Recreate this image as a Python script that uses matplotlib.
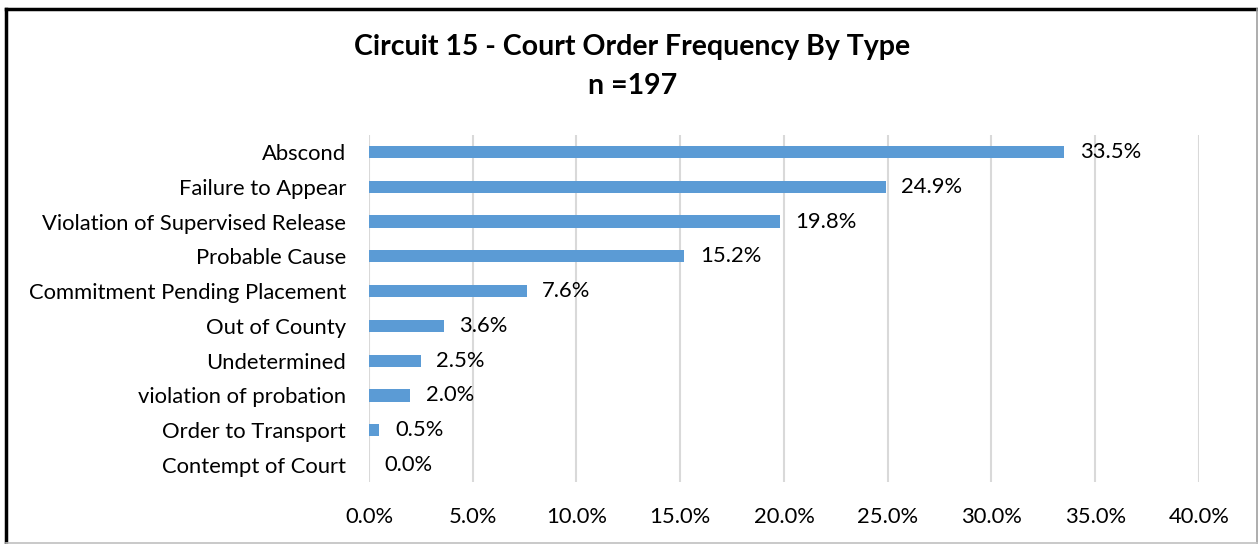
import matplotlib
matplotlib.use("Agg")
import matplotlib.pyplot as plt
from matplotlib.lines import Line2D

categories = ["Abscond", "Failure to Appear", "Violation of Supervised Release",
              "Probable Cause", "Commitment Pending Placement", "Out of County",
              "Undetermined", "violation of probation", "Order to Transport",
              "Contempt of Court"]
values = [33.5, 24.9, 19.8, 15.2, 7.6, 3.6, 2.5, 2.0, 0.5, 0.0]
xticks = [0, 5, 10, 15, 20, 25, 30, 35, 40]
title = "Circuit 15 - Court Order Frequency By Type\nn =197"

plt.rcParams['font.family'] = ['Lato', 'DejaVu Sans']
FS = 15.8

fig = plt.figure(figsize=(12.58, 5.44), dpi=100)
ax = fig.add_axes([0.2933, 0.1132, 0.6598, 0.6394])

ypos = list(range(len(categories)))
ax.barh(ypos, values, height=0.35, color="#5B9BD5", zorder=3)
ax.set_ylim(len(categories) - 0.5, -0.5)
ax.set_xlim(0, 40)
ax.set_xticks(xticks)
ax.set_xticklabels([f"{t:.1f}%" for t in xticks], fontsize=FS)
ax.set_yticks(ypos)
ax.set_yticklabels(categories, fontsize=FS)
ax.tick_params(axis='both', length=0)
ax.tick_params(axis='x', pad=17.5)
ax.tick_params(axis='y', pad=16.5)
ax.grid(axis='x', color="#D9D9D9", linewidth=1.5, zorder=0)
for s in ax.spines.values():
    s.set_visible(False)

for y, v in zip(ypos, values):
    ax.text(v + 0.75, y, f"{v:.1f}%", va='center', ha='left', fontsize=FS, zorder=4)

fig.text(0.5025, 0.878, title, ha='center', va='center', fontsize=20.5,
         fontweight='bold', linespacing=1.62)

# outer frame
fig.add_artist(Line2D([0.005, 0.005], [0, 0.983], color='black', lw=2.5, transform=fig.transFigure))
fig.add_artist(Line2D([0.005, 1.0], [0.983, 0.983], color='black', lw=2.5, transform=fig.transFigure))
fig.add_artist(Line2D([0.999, 0.999], [0, 0.983], color='#A0A0A0', lw=1.2, transform=fig.transFigure))
fig.add_artist(Line2D([0.005, 1.0], [0.002, 0.002], color='#C0C0C0', lw=1.2, transform=fig.transFigure))

fig.savefig("out.png", dpi=100, facecolor='white')
